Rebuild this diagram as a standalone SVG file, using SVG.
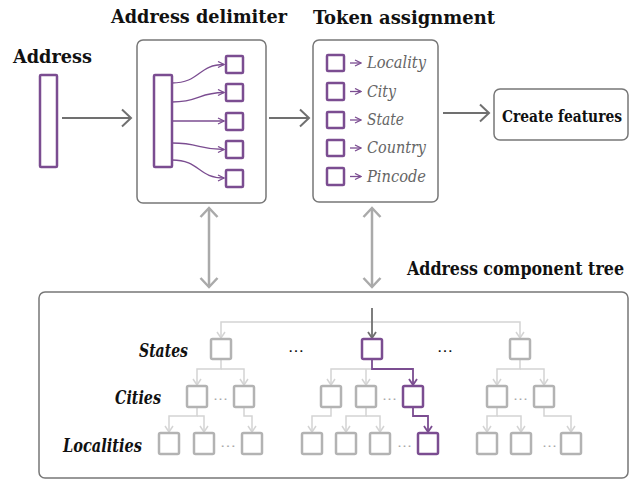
<svg xmlns="http://www.w3.org/2000/svg" width="632" height="480" viewBox="0 0 632 480">
<style>
.title{font-family:"DejaVu Serif Condensed","DejaVu Serif","Liberation Serif",serif;font-stretch:condensed;font-weight:bold;fill:#111}
.box{fill:#fff;stroke:#777;stroke-width:1.5}
.pbar{fill:#fff;stroke:#7b4d91;stroke-width:2.5}
.psq{fill:#fff;stroke:#7b4d91;stroke-width:2.5}
.gsq{fill:#fff;stroke:#b3b3b3;stroke-width:2.5}
.flow{fill:none;stroke:#707070;stroke-width:2}
.dbl{fill:none;stroke:#aaaaaa;stroke-width:2.5}
.pcurve{fill:none;stroke:#7b4d91;stroke-width:1.3}
.tok{font-family:"DejaVu Serif Condensed","DejaVu Serif","Liberation Serif",serif;font-stretch:condensed;font-style:italic;font-size:16px;fill:#666}
.lvl{font-family:"DejaVu Serif Condensed","DejaVu Serif","Liberation Serif",serif;font-stretch:condensed;font-style:italic;font-weight:bold;font-size:18px;fill:#111}
.tl{fill:none;stroke:#d4d4d4;stroke-width:1.5}
.tp{fill:none;stroke:#7b4d91;stroke-width:1.8}
.gdots{font-family:"DejaVu Sans",sans-serif;font-size:12px;fill:#aaa}
.bdots{font-family:"DejaVu Sans",sans-serif;font-size:14px;fill:#111}
</style>
<defs>
<marker id="ah" markerUnits="userSpaceOnUse" viewBox="0 0 12 20" refX="10" refY="10" markerWidth="12" markerHeight="20" orient="auto-start-reverse">
<path d="M1,1.5 L10,10 L1,18.5" fill="none" stroke="#707070" stroke-width="2"/>
</marker>
<marker id="ahl" markerUnits="userSpaceOnUse" viewBox="0 0 12 20" refX="10" refY="10" markerWidth="12" markerHeight="20" orient="auto-start-reverse">
<path d="M1,1.5 L10,10 L1,18.5" fill="none" stroke="#aaaaaa" stroke-width="2.5"/>
</marker>
<marker id="ahp" markerUnits="userSpaceOnUse" viewBox="0 0 8 8" refX="7" refY="4" markerWidth="8" markerHeight="8" orient="auto">
<path d="M1,1 L7,4 L1,7" fill="none" stroke="#7b4d91" stroke-width="1.3"/>
</marker>
<marker id="aht" markerUnits="userSpaceOnUse" viewBox="0 0 10 8" refX="5" refY="7" markerWidth="10" markerHeight="8" orient="0">
<path d="M1,1 L5,7 L9,1" fill="none" stroke="#d4d4d4" stroke-width="1.5"/>
</marker>
<marker id="ahtp" markerUnits="userSpaceOnUse" viewBox="0 0 10 8" refX="5" refY="7" markerWidth="10" markerHeight="8" orient="0">
<path d="M1,1 L5,7 L9,1" fill="none" stroke="#7b4d91" stroke-width="1.8"/>
</marker>
<marker id="ahtd" markerUnits="userSpaceOnUse" viewBox="0 0 10 8" refX="5" refY="7" markerWidth="10" markerHeight="8" orient="0">
<path d="M1,1 L5,7 L9,1" fill="none" stroke="#707070" stroke-width="1.8"/>
</marker>
</defs>

<g id="address">
<text class="title" x="13" y="63" font-size="18" textLength="79" lengthAdjust="spacingAndGlyphs">Address</text>
<rect class="pbar" x="40" y="75" width="17" height="92" rx="1"/>
</g>

<g id="delimiter">
<text class="title" x="111" y="23" font-size="18" textLength="176" lengthAdjust="spacingAndGlyphs">Address delimiter</text>
<rect class="box" x="137" y="40" width="129" height="163" rx="6"/>
<rect class="pbar" x="154" y="75" width="18" height="92" rx="1"/>
<rect class="psq" x="226" y="56" width="17" height="17" rx="1"/>
<rect class="psq" x="226" y="84" width="17" height="17" rx="1"/>
<rect class="psq" x="226" y="113" width="17" height="17" rx="1"/>
<rect class="psq" x="226" y="141" width="17" height="17" rx="1"/>
<rect class="psq" x="226" y="170" width="17" height="17" rx="1"/>
<path class="pcurve" marker-end="url(#ahp)" d="M172,83 C200,83 198,64.5 224,64.5"/>
<path class="pcurve" marker-end="url(#ahp)" d="M172,102 C200,102 198,92.5 224,92.5"/>
<path class="pcurve" marker-end="url(#ahp)" d="M172,121 L224,121"/>
<path class="pcurve" marker-end="url(#ahp)" d="M172,143 C200,143 198,149.5 224,149.5"/>
<path class="pcurve" marker-end="url(#ahp)" d="M172,160 C200,160 198,178 224,178"/>
</g>

<g id="token">
<text class="title" x="313" y="24" font-size="18" textLength="182" lengthAdjust="spacingAndGlyphs">Token assignment</text>
<rect class="box" x="313" y="40" width="125" height="162" rx="6"/>
<rect class="psq" x="327" y="55" width="17" height="16" rx="1"/>
<rect class="psq" x="327" y="83" width="17" height="17" rx="1"/>
<rect class="psq" x="327" y="112" width="17" height="16" rx="1"/>
<rect class="psq" x="327" y="140" width="17" height="16" rx="1"/>
<rect class="psq" x="327" y="168" width="17" height="17" rx="1"/>
<line class="pcurve" x1="350" y1="63" x2="361" y2="63" marker-end="url(#ahp)"/>
<line class="pcurve" x1="350" y1="91.5" x2="361" y2="91.5" marker-end="url(#ahp)"/>
<line class="pcurve" x1="350" y1="120" x2="361" y2="120" marker-end="url(#ahp)"/>
<line class="pcurve" x1="350" y1="148" x2="361" y2="148" marker-end="url(#ahp)"/>
<line class="pcurve" x1="350" y1="176.5" x2="361" y2="176.5" marker-end="url(#ahp)"/>
<text class="tok" x="367" y="68" textLength="59" lengthAdjust="spacingAndGlyphs">Locality</text>
<text class="tok" x="367" y="97" textLength="29" lengthAdjust="spacingAndGlyphs">City</text>
<text class="tok" x="367" y="125" textLength="37" lengthAdjust="spacingAndGlyphs">State</text>
<text class="tok" x="367" y="153" textLength="59" lengthAdjust="spacingAndGlyphs">Country</text>
<text class="tok" x="367" y="182" textLength="59" lengthAdjust="spacingAndGlyphs">Pincode</text>
</g>

<g id="features">
<rect class="box" x="494" y="89" width="134" height="51" rx="6"/>
<text class="title" x="502" y="122" font-size="16" textLength="120" lengthAdjust="spacingAndGlyphs">Create features</text>
</g>

<g id="tree">
<text class="title" x="407" y="275" font-size="18" textLength="217" lengthAdjust="spacingAndGlyphs">Address component tree</text>
<rect class="box" x="39" y="292" width="589" height="186" rx="6"/>
<text class="lvl" x="139" y="357" textLength="49" lengthAdjust="spacingAndGlyphs">States</text>
<text class="lvl" x="115" y="404" textLength="46" lengthAdjust="spacingAndGlyphs">Cities</text>
<text class="lvl" x="63" y="452" textLength="79" lengthAdjust="spacingAndGlyphs">Localities</text>
<text class="bdots" x="288" y="352" textLength="16" lengthAdjust="spacingAndGlyphs">…</text>
<text class="bdots" x="437" y="352" textLength="16" lengthAdjust="spacingAndGlyphs">…</text>

<g id="tree-lines">
<path class="tl" marker-end="url(#aht)" d="M372,322 H221 V338"/>
<path class="tl" marker-end="url(#aht)" d="M372,322 H520 V338"/>
<path class="tl" marker-end="url(#aht)" d="M221,359 V369 H197 V385"/>
<path class="tl" marker-end="url(#aht)" d="M221,369 H244 V385"/>
<path class="tl" marker-end="url(#aht)" d="M197,407 V416 H169 V432"/>
<path class="tl" marker-end="url(#aht)" d="M197,416 H204 V432"/>
<path class="tl" marker-end="url(#aht)" d="M244,407 V416 H252 V432"/>
<path class="tl" marker-end="url(#aht)" d="M372,369 H331 V385"/>
<path class="tl" marker-end="url(#aht)" d="M366,369 V385"/>
<path class="tl" marker-end="url(#aht)" d="M331,407 V416 H312 V432"/>
<path class="tl" marker-end="url(#aht)" d="M366,407 V416 H346 V432"/>
<path class="tl" marker-end="url(#aht)" d="M366,416 H380 V432"/>
<path class="tl" marker-end="url(#aht)" d="M520,359 V369 H497 V385"/>
<path class="tl" marker-end="url(#aht)" d="M520,369 H544 V385"/>
<path class="tl" marker-end="url(#aht)" d="M497,407 V416 H487 V432"/>
<path class="tl" marker-end="url(#aht)" d="M497,416 H521 V432"/>
<path class="tl" marker-end="url(#aht)" d="M544,407 V416 H571 V432"/>
<path class="tp" marker-end="url(#ahtp)" d="M372,359 V369 H413 V385"/>
<path class="tp" marker-end="url(#ahtp)" d="M413,407 V416 H428 V432"/>
<path fill="none" stroke="#707070" stroke-width="1.8" marker-end="url(#ahtd)" d="M372,308 V338"/>
</g>

<g id="tree-left">
<rect class="gsq" x="211" y="339" width="20" height="20" rx="1.5"/>
<rect class="gsq" x="187" y="386" width="20" height="21" rx="1.5"/>
<rect class="gsq" x="234" y="386" width="20" height="21" rx="1.5"/>
<rect class="gsq" x="159" y="433" width="20" height="21" rx="1.5"/>
<rect class="gsq" x="194" y="433" width="20" height="21" rx="1.5"/>
<rect class="gsq" x="242" y="433" width="20" height="21" rx="1.5"/>
<text class="gdots" x="213" y="400" textLength="15" lengthAdjust="spacingAndGlyphs">…</text>
<text class="gdots" x="220" y="447" textLength="16" lengthAdjust="spacingAndGlyphs">…</text>
</g>
<g id="tree-middle">
<rect class="psq" x="362" y="339" width="20" height="20" rx="1.5"/>
<rect class="gsq" x="321" y="386" width="20" height="21" rx="1.5"/>
<rect class="gsq" x="356" y="386" width="20" height="21" rx="1.5"/>
<rect class="psq" x="403" y="386" width="20" height="21" rx="1.5"/>
<rect class="gsq" x="302" y="433" width="20" height="21" rx="1.5"/>
<rect class="gsq" x="336" y="433" width="20" height="21" rx="1.5"/>
<rect class="gsq" x="370" y="433" width="20" height="21" rx="1.5"/>
<rect class="psq" x="418" y="433" width="20" height="21" rx="1.5"/>
<text class="gdots" x="382" y="400" textLength="15" lengthAdjust="spacingAndGlyphs">…</text>
<text class="gdots" x="397" y="447" textLength="15" lengthAdjust="spacingAndGlyphs">…</text>
</g>
<g id="tree-right">
<rect class="gsq" x="510" y="339" width="20" height="20" rx="1.5"/>
<rect class="gsq" x="487" y="386" width="20" height="21" rx="1.5"/>
<rect class="gsq" x="534" y="386" width="20" height="21" rx="1.5"/>
<rect class="gsq" x="477" y="433" width="20" height="21" rx="1.5"/>
<rect class="gsq" x="511" y="433" width="20" height="21" rx="1.5"/>
<rect class="gsq" x="561" y="433" width="20" height="21" rx="1.5"/>
<text class="gdots" x="513" y="400" textLength="15" lengthAdjust="spacingAndGlyphs">…</text>
<text class="gdots" x="542" y="447" textLength="15" lengthAdjust="spacingAndGlyphs">…</text>
</g>
</g>

<g id="connectors">
<line class="flow" x1="62" y1="118" x2="131" y2="118" marker-end="url(#ah)"/>
<line class="flow" x1="269" y1="118" x2="309" y2="118" marker-end="url(#ah)"/>
<line class="flow" x1="443" y1="113" x2="489" y2="113" marker-end="url(#ah)"/>
<line class="dbl" x1="209" y1="208" x2="209" y2="287" marker-start="url(#ahl)" marker-end="url(#ahl)"/>
<line class="dbl" x1="372" y1="208" x2="372" y2="287" marker-start="url(#ahl)" marker-end="url(#ahl)"/>
</g>
</svg>
